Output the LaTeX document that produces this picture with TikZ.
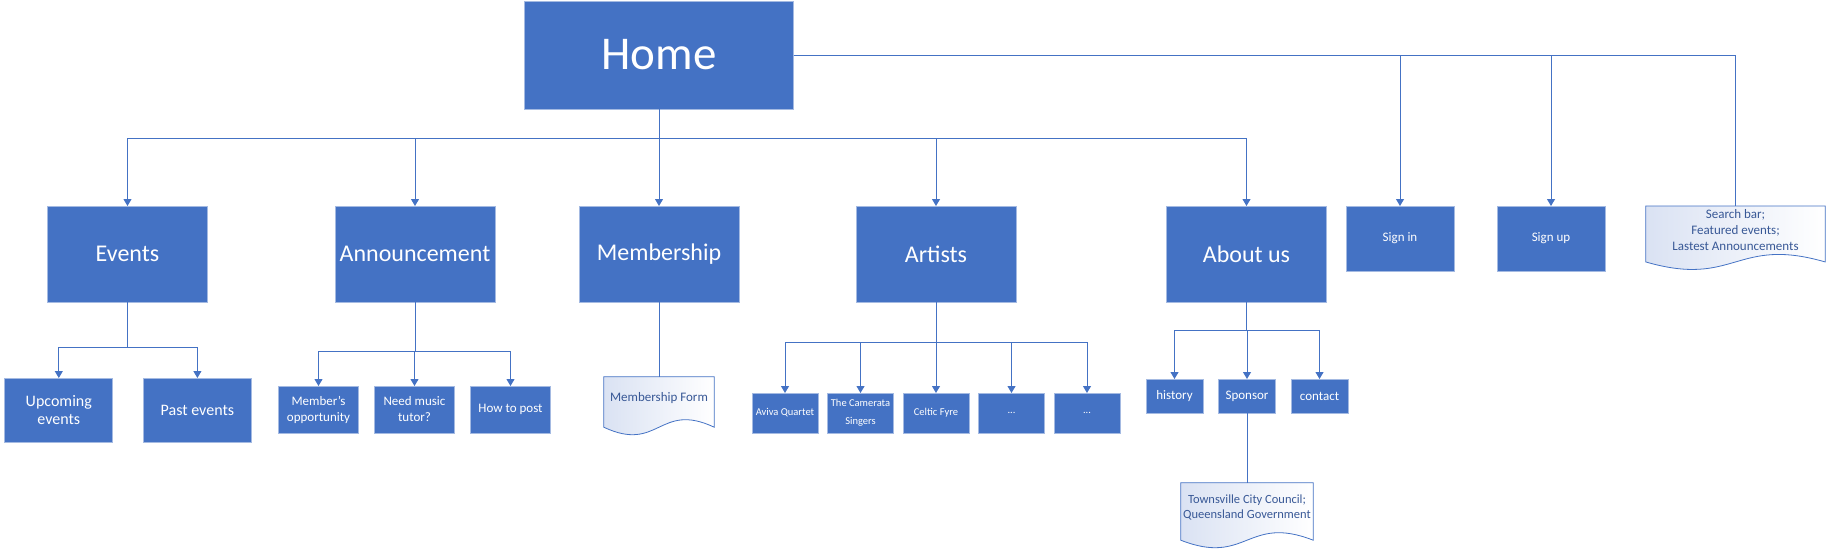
\documentclass[tikz,border=0pt]{standalone}
\usepackage{fontspec}
\setmainfont{Carlito}
\usetikzlibrary{arrows.meta, positioning, calc, backgrounds}

\definecolor{boxblue}{RGB}{68,114,196}
\definecolor{boxedge}{RGB}{164,186,226}
\definecolor{doctext}{RGB}{56,88,150}
\definecolor{docfill}{RGB}{218,226,243}

% wavy paper outline behind a docbox node
\newcommand{\docshape}[1]{%
  \begin{scope}[on background layer]
    \path[draw=boxblue, line width=0.8pt, left color=docfill, right color=white]
      (#1.north west) -- (#1.north east) -- ($(#1.south east)+(0,-8)$)
      .. controls ($(#1.south west)!0.5!(#1.south east)+(0,18)$)
      and ($(#1.south west)!0.5!(#1.south east)+(0,-34)$) .. ($(#1.south west)+(0,-8)$)
      -- cycle;
  \end{scope}}

\begin{document}
\begin{tikzpicture}[x=1pt, y=1pt]
    % Node styles
    \tikzstyle{pagebox} = [rectangle, fill=boxblue, draw=boxedge, line width=1pt, text=white, align=center, inner sep=0pt, outer sep=0pt]
    \tikzstyle{homebox} = [pagebox, minimum width=269pt, minimum height=108pt, font=\fontsize{47}{56}\selectfont]
    \tikzstyle{sectionbox} = [pagebox, minimum width=160pt, minimum height=96pt, font=\fontsize{24}{29}\selectfont]
    \tikzstyle{accountbox} = [pagebox, minimum width=108pt, minimum height=65pt, font=\fontsize{13}{16}\selectfont]
    \tikzstyle{eventbox} = [pagebox, minimum width=108pt, minimum height=64pt, font=\fontsize{16}{18}\selectfont]
    \tikzstyle{postbox} = [pagebox, minimum width=80pt, minimum height=47pt, font=\fontsize{13}{16}\selectfont]
    \tikzstyle{artistbox} = [pagebox, minimum width=66pt, minimum height=40pt, font=\fontsize{10.5}{18}\selectfont]
    \tikzstyle{infobox} = [pagebox, minimum width=57pt, minimum height=34pt, font=\fontsize{13}{16}\selectfont]
    \tikzstyle{docbox} = [rectangle, text=doctext, align=center, inner sep=0pt, font=\fontsize{13}{16}\selectfont]
    \tikzstyle{wire} = [draw=boxblue, line width=1pt]
    \tikzstyle{flowarrow} = [wire, -{Triangle[length=7pt, width=8pt]}]

    \useasboundingbox (0,0) rectangle (1830,-550);

    % Top level
    \node (home) [homebox] at (659,-55) {Home};
    \node (events) [sectionbox] at (127.5,-254) {Events};
    \node (announce) [sectionbox] at (415,-254) {Announcement};
    \node (member) [sectionbox] at (659,-254) {Membership};
    \node (artists) [sectionbox] at (936,-254) {Artists};
    \node (about) [sectionbox] at (1246.5,-254) {About us};
    \node (signin) [accountbox] at (1400,-238.5) {Sign in};
    \node (signup) [accountbox] at (1551,-238.5) {Sign up};
    \node (homedoc) [docbox, minimum width=179pt, minimum height=47.5pt] at (1735.5,-230) {Search bar;\\Featured events;\\Lastest Announcements};

    % Second level
    \node (upcoming) [eventbox] at (58.8,-410) {Upcoming\\events};
    \node (past) [eventbox, right=30.6pt of upcoming] {Past events};

    \node (opportunity) [postbox] at (318.5,-409.5) {Member's\\opportunity};
    \node (tutor) [postbox, right=16pt of opportunity] {Need music\\tutor?};
    \node (howto) [postbox, right=16pt of tutor] {How to post};

    \node (form) [docbox, minimum width=110pt, minimum height=42pt] at (659,-398) {Membership Form};

    \node (aviva) [artistbox] at (785,-413) {Aviva Quartet};
    \node (camerata) [artistbox, right=9.5pt of aviva] {The Camerata\\Singers};
    \node (celtic) [artistbox, right=9.5pt of camerata] {Celtic Fyre};
    \node (moreA) [artistbox, right=9.5pt of celtic] {...};
    \node (moreB) [artistbox, right=9.5pt of moreA] {...};

    \node (history) [infobox] at (1174.5,-396) {history};
    \node (sponsor) [infobox, right=15.5pt of history] {Sponsor};
    \node (contact) [infobox, right=15.5pt of sponsor] {contact};

    \node (council) [docbox, minimum width=132pt, minimum height=49pt, font=\fontsize{12.5}{15}\selectfont] at (1247,-507.5) {Townsville City Council;\\Queensland Government};

    \docshape{homedoc}
    \docshape{form}
    \docshape{council}

    % Bus points
    \coordinate (homebus) at (659,-138);
    \coordinate (eventbus) at (127.5,-347);
    \coordinate (postbus) at (415,-351);
    \coordinate (artistbus) at (936,-342);
    \coordinate (aboutbus) at (1246.5,-330);

    % Connectors
    \draw[wire] (home.south) -- (homebus);
    \foreach \n in {events, announce, member, artists, about}
        \draw[flowarrow] (homebus) -| (\n.north);
    \draw[flowarrow] (home.east) -| (signin.north);
    \draw[flowarrow] (home.east) -| (signup.north);
    \draw[wire] (home.east) -| (homedoc.north);

    \draw[wire] (events.south) -- (eventbus);
    \foreach \n in {upcoming, past}
        \draw[flowarrow] (eventbus) -| (\n.north);

    \draw[wire] (announce.south) -- (postbus);
    \foreach \n in {opportunity, tutor, howto}
        \draw[flowarrow] (postbus) -| (\n.north);

    \draw[wire] (member.south) -- (form.north);

    \draw[wire] (artists.south) -- (artistbus);
    \foreach \n in {aviva, camerata, celtic, moreA, moreB}
        \draw[flowarrow] (artistbus) -| (\n.north);

    \draw[wire] (about.south) -- (aboutbus);
    \foreach \n in {history, sponsor, contact}
        \draw[flowarrow] (aboutbus) -| (\n.north);

    \draw[wire] (sponsor.south) -- (council.north);
\end{tikzpicture}
\end{document}
